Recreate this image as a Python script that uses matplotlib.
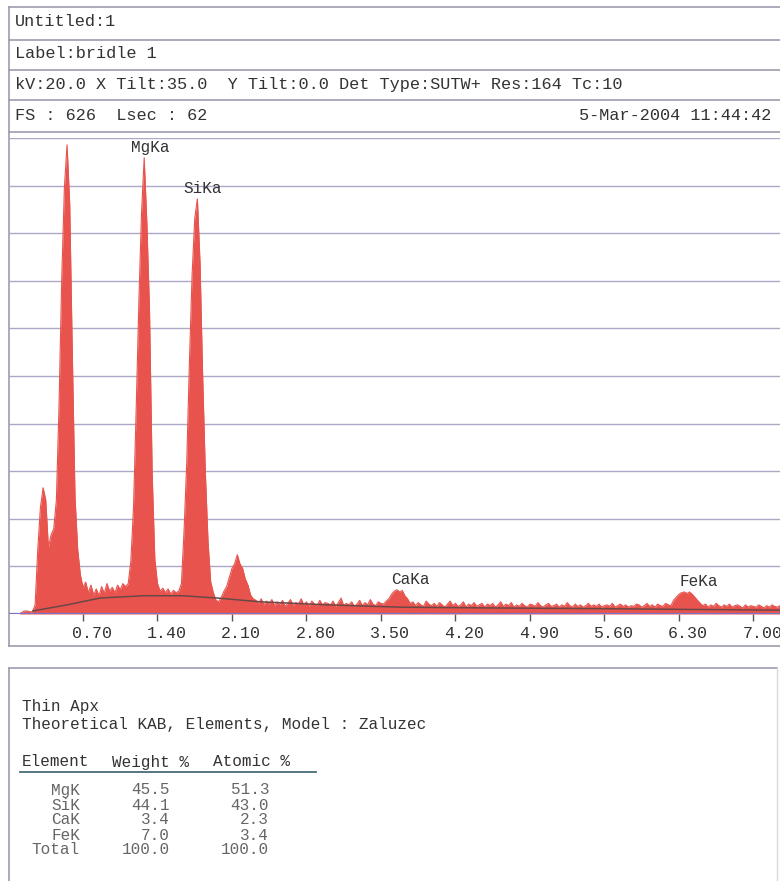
import numpy as np
import matplotlib
matplotlib.use("Agg")
import matplotlib.pyplot as plt
from matplotlib.transforms import offset_copy

# EDS spectrum, 25 eV per channel, counts (0 .. 7.25 keV)
channel_kev = 0.025
counts = [
    0, 0, 0, 0, 0, 2, 4, 4, 3, 3, 12, 85, 140, 166, 150, 87, 104, 112, 150, 275,          # 0.00
    439, 560, 617, 540, 340, 154, 85, 52, 35, 42, 28, 38, 25, 33, 24, 36, 27, 40, 30, 35,  # 0.50
    28, 38, 32, 40, 36, 40, 70, 141, 270, 410, 527, 600, 515, 400, 185, 72, 40, 30, 34, 28,  # 1.00
    33, 26, 31, 28, 30, 40, 110, 199, 330, 445, 520, 546, 461, 310, 185, 95, 42, 28, 18, 16,  # 1.50
    22, 30, 36, 48, 60, 66, 78, 66, 60, 46, 38, 25, 20, 18, 14, 20, 12, 17, 13, 19,       # 2.00
    11, 16, 12, 18, 10, 14, 19, 11, 15, 13, 20, 12, 16, 10, 17, 13, 11, 18, 12, 15,       # 2.50
    14, 12, 17, 10, 15, 21, 11, 14, 12, 16, 10, 13, 18, 11, 15, 12, 19, 13, 11, 16,       # 3.00
    14, 13, 17, 20, 26, 30, 32, 29, 31, 24, 20, 14, 16, 11, 15, 12, 10, 17, 13, 11,       # 3.50
    14, 10, 15, 12, 9, 13, 17, 11, 14, 10, 12, 16, 9, 13, 11, 15, 10, 12, 14, 9,          # 4.00
    13, 11, 14, 9, 12, 16, 10, 13, 11, 15, 9, 12, 10, 14, 11, 9, 13, 12, 10, 15,          # 4.50
    11, 9, 12, 14, 10, 11, 13, 9, 12, 10, 15, 11, 9, 13, 10, 12, 9, 11, 14, 10,           # 5.00
    12, 10, 13, 9, 11, 12, 10, 14, 9, 11, 13, 10, 12, 9, 11, 10, 13, 12, 9, 11,           # 5.50
    14, 10, 12, 9, 13, 11, 10, 14, 12, 11, 18, 22, 26, 28, 29, 27, 29, 26, 22, 18,        # 6.00
    14, 11, 13, 9, 12, 10, 14, 11, 9, 12, 10, 13, 9, 11, 12, 10, 8, 12, 9, 11,            # 6.50
    10, 9, 12, 10, 8, 11, 9, 12, 10, 9, 11,                                               # 7.00
]
energy = np.arange(len(counts)) * channel_kev

# background (bremsstrahlung) fit curve
bkg_energy = [0.23, 0.55, 0.86, 1.27, 1.64, 1.96, 2.37, 3.00, 3.68, 4.50, 5.56, 7.25]
bkg_counts = [4, 12, 21, 24, 24, 21, 16, 12, 9, 8, 7, 5]

peak_names = ["MgKa", "SiKa", "CaKa", "FeKa"]
peak_energy = [1.25, 1.74, 3.69, 6.40]

tick_values = [0.70, 1.40, 2.10, 2.80, 3.50, 4.20, 4.90, 5.60, 6.30, 7.00]
full_scale = 626

header_lines = [
    "Untitled:1",
    "Label:bridle 1",
    "kV:20.0 X Tilt:35.0  Y Tilt:0.0 Det Type:SUTW+ Res:164 Tc:10",
    "FS : 626  Lsec : 62",
]
date_text = "5-Mar-2004 11:44:42"

table_elements = ["MgK", "SiK", "CaK", "FeK", "Total"]
table_weight = ["45.5", "44.1", "3.4", "7.0", "100.0"]
table_atomic = ["51.3", "43.0", "2.3", "3.4", "100.0"]

mono = "Liberation Mono"
red = "#e8534d"
line_col = "#9c9cae"
grid_col = "#aca8c6"
text_col = "#333333"

W, H = 780, 881
fig = plt.figure(figsize=(W / 100, H / 100), dpi=100)

# background canvas in pixel coordinates for the printout boxes
bg = fig.add_axes([0, 0, 1, 1])
bg.set_xlim(0, W)
bg.set_ylim(H, 0)
bg.axis("off")

for y in [7, 40, 70, 100, 132]:
    bg.plot([8.5, W], [y, y], color=line_col, lw=1.2)
bg.plot([8.5, 8.5], [7, 646], color=line_col, lw=1.2)
bg.plot([8.5, W], [646, 646], color=line_col, lw=1.2)
bg.plot([8.5, 777], [668, 668], color=line_col, lw=1.2)
bg.plot([8.5, 8.5], [668, H], color=line_col, lw=1.2)
bg.plot([777, 777], [668, H], color="#d8d8e0", lw=1)

for y, s in zip([22, 54, 85, 116], header_lines):
    bg.text(15, y, s, family=mono, fontsize=12.2, color=text_col, va="center", ha="left")
bg.text(771, 116, date_text, family=mono, fontsize=12.2, color=text_col, va="center", ha="right")

# result table
fs_tab = 11.5
bg.text(22, 707, "Thin Apx", family=mono, fontsize=fs_tab, color=text_col, va="center")
bg.text(22, 725, "Theoretical KAB, Elements, Model : Zaluzec", family=mono, fontsize=fs_tab,
        color=text_col, va="center")
bg.text(22, 762, "Element", family=mono, fontsize=fs_tab, color=text_col, va="center")
bg.text(112, 762, "Weight %", family=mono, fontsize=fs_tab, color=text_col, va="center")
bg.text(213, 762, "Atomic %", family=mono, fontsize=fs_tab, color=text_col, va="center")
bg.plot([20, 316], [772, 772], color="#4a6a7a", lw=1.3)
for i, (el, wt, at) in enumerate(zip(table_elements, table_weight, table_atomic)):
    y = 790 + i * 15
    bg.text(80, y, el, family=mono, fontsize=fs_tab, color="#666666", va="center", ha="right")
    bg.text(170, y, wt, family=mono, fontsize=fs_tab, color="#666666", va="center", ha="right")
    bg.text(269, y, at, family=mono, fontsize=fs_tab, color="#666666", va="center", ha="right")

# spectrum axes
ax = fig.add_axes([8.5 / W, (H - 614) / H, (W - 8.5) / W, 476 / H])
ax.patch.set_alpha(0)
ax.set_xlim(0, 7.25)
ax.set_ylim(0, full_scale)
for k in range(1, 11):
    ax.axhline(full_scale * k / 10, color=grid_col, lw=1, zorder=1)

ax.fill_between(energy, counts, color=red, lw=0, zorder=3)
ax.plot(energy, counts, color=red, lw=0.8, zorder=3)
ax.plot(bkg_energy, bkg_counts, color="#6b4848", lw=1.1, zorder=4)
ax.axhline(0, color="#7a72c8", lw=1.6, zorder=5)

for sp in ax.spines.values():
    sp.set_visible(False)
ax.set_yticks([])
ax.set_xticks(tick_values)
ax.set_xticklabels([])
ax.tick_params(axis="x", direction="out", length=5, width=1, color="#555555")

lab_tr = offset_copy(ax.get_xaxis_transform(), fig=fig, x=9, y=-19, units="dots")
for t in tick_values:
    ax.text(t, 0, f"{t:.2f}", transform=lab_tr, family=mono, fontsize=12,
            color=text_col, ha="center", va="center")

counts_arr = np.array(counts)
for name, e in zip(peak_names, peak_energy):
    near = np.abs(energy - e) <= 0.06
    top = counts_arr[near].max()
    tr = offset_copy(ax.transData, fig=fig, x=9, y=3, units="dots")
    ax.text(e, top, name, transform=tr, family=mono, fontsize=11.5, color=text_col,
            ha="center", va="bottom", zorder=6)

fig.savefig("out.png", dpi=100)
